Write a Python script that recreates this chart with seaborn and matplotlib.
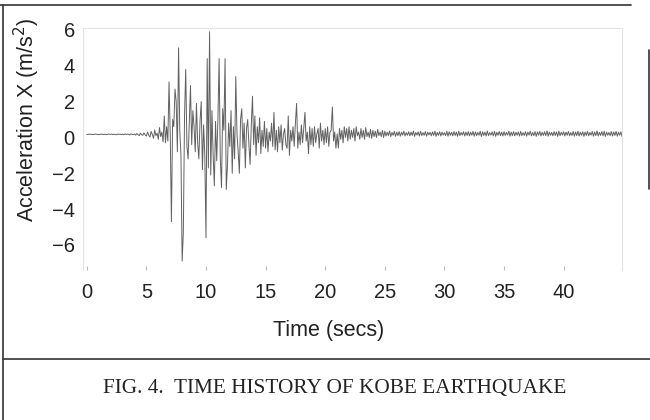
import numpy as np
import matplotlib
matplotlib.use("Agg")
import matplotlib.pyplot as plt
import seaborn as sns

# Kobe record, X acceleration (m/s^2), every 0.1 s
dt = 0.1
acc = [
    # 0 - 5 s, quiet start
    0.18, 0.16, 0.19, 0.17, 0.18, 0.16, 0.17, 0.19, 0.18, 0.17,
    0.16, 0.18, 0.17, 0.19, 0.16, 0.18, 0.17, 0.16, 0.19, 0.18,
    0.17, 0.19, 0.16, 0.18, 0.17, 0.15, 0.19, 0.17, 0.18, 0.16,
    0.18, 0.15, 0.20, 0.16, 0.19, 0.17, 0.14, 0.20, 0.17, 0.16,
    0.19, 0.13, 0.22, 0.16, 0.10, 0.24, 0.15, 0.12, 0.26, 0.14,
    # 5 - 10 s
    0.08, 0.30, 0.12, 0.02, 0.34, 0.16, -0.05, 0.42, 0.10, 0.24,
    -0.10, 0.55, 0.05, 0.30, -0.25, 1.20, -0.30, 0.60, -0.20, 3.10,
    0.20, -4.70, 1.00, 0.60, 2.70, 2.00, -0.80, 5.00, 0.40, -1.00,
    -6.90, -5.30, 1.20, 3.80, -0.50, -1.20, 0.80, 2.90, -0.40, 1.50,
    0.60, -0.80, 1.90, -0.30, -1.20, 0.90, 2.00, -1.80, 0.70, -1.00,
    # 10 - 15 s, strongest shaking
    -5.60, 4.40, -1.70, 5.90, -2.10, 1.50, -1.00, -2.70, 0.90, -1.30,
    1.00, 4.40, -1.20, -2.80, 1.60, 0.40, 4.40, -2.90, -1.60, 0.80,
    -0.50, 1.50, -2.00, 0.60, -1.20, 3.40, 0.20, -0.80, -2.00, 1.00,
    1.60, -0.60, 0.80, -1.70, 0.50, 1.00, -0.40, -1.50, 0.70, 2.30,
    -0.40, 1.20, -1.00, 0.60, -0.30, 1.10, -0.90, 0.40, -0.50, 0.90,
    # 15 - 20 s
    -0.60, 0.50, -0.80, 0.30, -0.20, 0.80, -0.50, 1.40, -0.70, 0.40,
    -0.80, 0.60, -0.30, 0.70, -0.70, 0.20, 0.50, -0.40, -0.60, 1.20,
    -1.00, 0.40, -0.20, 0.60, -0.50, 0.80, 1.90, -0.60, 0.30, -0.40,
    0.70, -0.30, 0.50, 1.40, -0.20, 0.30, -0.90, 0.60, -0.40, 0.50,
    -0.50, 0.60, -0.30, 0.20, 0.50, -0.60, 0.80, -0.20, 0.40, -0.40,
    # 20 - 25 s
    0.50, -0.30, 0.60, -0.50, 0.30, 0.40, 1.70, -0.20, 0.30, -0.60,
    0.20, -0.60, 0.50, -0.10, 0.40, -0.30, 0.60, 0.00, 0.50, -0.20,
    0.60, -0.10, 0.40, 0.00, 0.50, -0.20, 0.60, 0.10, 0.30, -0.10,
    0.50, 0.00, 0.40, -0.10, 0.55, 0.05, 0.30, 0.00, 0.45, -0.05,
    0.40, 0.05, 0.35, 0.00, 0.45, 0.10, 0.30, 0.05, 0.40, 0.00,
    # 25 - 45 s, tail
    0.35, 0.08, 0.30, 0.10, 0.36, 0.05, 0.28, 0.12, 0.34, 0.06,
    0.30, 0.10, 0.33, 0.07, 0.29, 0.13, 0.35, 0.08, 0.27, 0.12,
    0.32, 0.09, 0.30, 0.11, 0.36, 0.06, 0.28, 0.13, 0.31, 0.08,
    0.34, 0.10, 0.27, 0.12, 0.33, 0.07, 0.30, 0.14, 0.29, 0.09,
    0.31, 0.11, 0.35, 0.06, 0.28, 0.12, 0.32, 0.08, 0.30, 0.13,
    0.27, 0.10, 0.34, 0.07, 0.31, 0.12, 0.29, 0.09, 0.33, 0.11,
    0.30, 0.06, 0.35, 0.10, 0.28, 0.13, 0.32, 0.08, 0.30, 0.11,
    0.33, 0.09, 0.29, 0.12, 0.34, 0.07, 0.31, 0.10, 0.28, 0.12,
    0.35, 0.05, 0.32, 0.11, 0.30, 0.08, 0.36, 0.10, 0.27, 0.13,
    0.31, 0.09, 0.34, 0.06, 0.29, 0.12, 0.33, 0.10, 0.30, 0.08,
    0.32, 0.11, 0.28, 0.13, 0.35, 0.07, 0.30, 0.10, 0.33, 0.09,
    0.29, 0.12, 0.31, 0.08, 0.34, 0.10, 0.27, 0.11, 0.32, 0.07,
    0.30, 0.13, 0.35, 0.09, 0.28, 0.10, 0.33, 0.06, 0.31, 0.12,
    0.34, 0.08, 0.29, 0.11, 0.32, 0.10, 0.36, 0.07, 0.30, 0.12,
    0.28, 0.09, 0.33, 0.11, 0.31, 0.06, 0.35, 0.10, 0.29, 0.13,
    0.32, 0.08, 0.30, 0.12, 0.34, 0.09, 0.27, 0.11, 0.33, 0.07,
    0.31, 0.10, 0.35, 0.08, 0.29, 0.12, 0.32, 0.06, 0.30, 0.11,
    0.34, 0.09, 0.28, 0.13, 0.33, 0.07, 0.31, 0.10, 0.36, 0.08,
    0.29, 0.11, 0.32, 0.09, 0.35, 0.06, 0.30, 0.12, 0.28, 0.10,
    0.33, 0.08, 0.31, 0.11, 0.34, 0.07, 0.29, 0.12, 0.32, 0.05,
]
t = np.round(np.arange(len(acc)) * dt, 1)

xticks = [0, 5, 10, 15, 20, 25, 30, 35, 40]
yticks = [-6, -4, -2, 0, 2, 4, 6]
caption = "FIG. 4.  TIME HISTORY OF KOBE EARTHQUAKE"

sns.set_theme(style="white")
plt.rcParams["font.family"] = ["Liberation Sans", "DejaVu Sans"]

fig = plt.figure(figsize=(6.5, 4.2), dpi=100)
ax = fig.add_axes([0.128, 0.357, 0.829, 0.576])

sns.lineplot(x=t, y=acc, ax=ax, estimator=None, color="#1e1e1e",
             linewidth=0.7, alpha=0.7)

ax.set_xlim(-0.3, 44.9)
ax.set_ylim(-7.4, 6.1)
ax.set_xticks(xticks)
ax.set_yticks(yticks)
ax.set_yticklabels([str(v).replace("-", "\u2212") for v in yticks])
ax.tick_params(axis="both", labelsize=14.5, colors="#222222")
ax.tick_params(axis="x", direction="in", length=3, width=0.8,
               color="#bbbbbb", pad=9, bottom=True)
ax.tick_params(axis="y", length=0, pad=6)

for side in ["left", "top", "right"]:
    ax.spines[side].set_color("#e4e4e4")
    ax.spines[side].set_linewidth(0.8)
ax.spines["bottom"].set_visible(False)

ax.set_xlabel("Time (secs)", fontsize=15.5, color="#222222")
ax.xaxis.set_label_coords(0.455, -0.205)
ax.set_ylabel("Acceleration X (m/s$^2$)", fontsize=15.5, color="#222222")
ax.yaxis.set_label_coords(-0.077, 0.62)

# scanned page frame and caption box
frame = dict(transform=fig.transFigure, color="#333333", linewidth=1.2)
fig.add_artist(plt.Line2D([0.004, 0.004], [0.0, 0.988], **frame))
fig.add_artist(plt.Line2D([0.0, 0.97], [0.988, 0.988], **frame))
fig.add_artist(plt.Line2D([0.998, 0.998], [0.55, 0.88], **frame))
fig.add_artist(plt.Line2D([0.004, 1.0], [0.145, 0.145], **frame))

fig.text(0.515, 0.076, caption, ha="center", va="center", fontsize=15.3,
         family=["Liberation Serif", "DejaVu Serif"], color="#222222")

fig.savefig("out.png", dpi=100)
